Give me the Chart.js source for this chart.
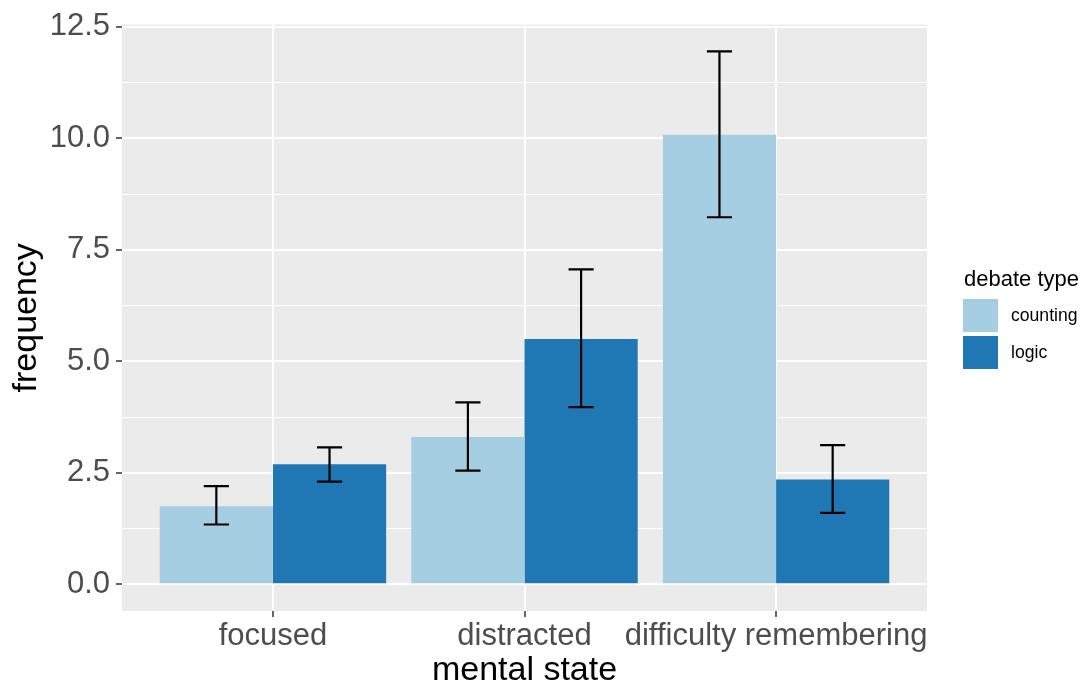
<!DOCTYPE html>
<html>
<head>
<meta charset="utf-8">
<script src="https://cdn.jsdelivr.net/npm/chart.js@4"></script>
<style>
  html, body { margin: 0; padding: 0; background: #ffffff; }
  #wrap { width: 1088px; height: 684px; }
</style>
</head>
<body>
<div id="wrap"><canvas id="c" width="1088" height="684"></canvas></div>
<script>
// ---- data ----
const categories = ["focused", "distracted", "difficulty remembering"];
const seriesNames = ["counting", "logic"];
const counting = [1.75, 3.30, 10.08];
const countingLow = [1.34, 2.55, 8.23];
const countingHigh = [2.20, 4.08, 11.95];
const logic = [2.69, 5.50, 2.35];
const logicLow = [2.30, 3.97, 1.60];
const logicHigh = [3.07, 7.06, 3.12];
const yMajorTicks = [0, 2.5, 5, 7.5, 10, 12.5];
const yMajorLabels = ["0.0", "2.5", "5.0", "7.5", "10.0", "12.5"];
const yMinorTicks = [1.25, 3.75, 6.25, 8.75, 11.25];
const legendTitle = "debate type";
const xTitle = "mental state";
const yTitle = "frequency";

// ---- styles ----
const colors = ["#A6CEE3", "#1F78B4"];
const FONT = "'Liberation Sans', Arial, Helvetica, sans-serif";

const catPos = categories.map((_, i) => i + 1);
const lows = [countingLow, logicLow];
const highs = [countingHigh, logicHigh];

const panelBg = {
  id: 'panelBg',
  beforeDraw(chart) {
    const {ctx, chartArea: a} = chart;
    ctx.save();
    ctx.fillStyle = '#EBEBEB';
    ctx.fillRect(a.left, a.top, a.right - a.left, a.bottom - a.top);
    ctx.restore();
  }
};

const errorBars = {
  id: 'errorBars',
  afterDatasetsDraw(chart) {
    const {ctx} = chart;
    const xs = chart.scales.x, ys = chart.scales.y;
    const half = Math.abs(xs.getPixelForValue(0.05) - xs.getPixelForValue(0));
    ctx.save();
    ctx.strokeStyle = '#000000';
    ctx.lineWidth = 2.2;
    ctx.lineCap = 'butt';
    chart.data.datasets.forEach((ds, i) => {
      const meta = chart.getDatasetMeta(i);
      meta.data.forEach((el, j) => {
        const x = el.x;
        const yH = ys.getPixelForValue(highs[i][j]);
        const yL = ys.getPixelForValue(lows[i][j]);
        ctx.beginPath();
        ctx.moveTo(x, yH); ctx.lineTo(x, yL);
        ctx.moveTo(x - half, yH); ctx.lineTo(x + half, yH);
        ctx.moveTo(x - half, yL); ctx.lineTo(x + half, yL);
        ctx.stroke();
      });
    });
    ctx.restore();
  }
};

const ggLegend = {
  id: 'ggLegend',
  afterDraw(chart) {
    const {ctx} = chart;
    ctx.save();
    ctx.fillStyle = '#000000';
    ctx.textAlign = 'left';
    ctx.textBaseline = 'alphabetic';
    ctx.font = `22px ${FONT}`;
    ctx.fillText(legendTitle, 964, 286);
    const boxX = 963, boxW = 35, boxH = 34, y0 = 299, gap = 37;
    chart.data.datasets.forEach((ds, i) => {
      const y = y0 + i * gap;
      ctx.fillStyle = ds.backgroundColor;
      ctx.fillRect(boxX, y, boxW, boxH - 1);
      ctx.fillStyle = '#000000';
      ctx.font = `17.6px ${FONT}`;
      ctx.textBaseline = 'middle';
      ctx.fillText(ds.label, 1011, y + boxH / 2);
    });
    ctx.restore();
  }
};

const datasets = [counting, logic].map((vals, i) => ({
  label: seriesNames[i],
  data: vals.map((v, j) => ({x: catPos[j], y: v})),
  backgroundColor: colors[i],
  borderWidth: 0,
  categoryPercentage: 0.9,
  barPercentage: 1.0,
  grouped: true
}));

new Chart(document.getElementById('c'), {
  type: 'bar',
  data: { datasets },
  plugins: [panelBg, errorBars, ggLegend],
  options: {
    responsive: false,
    animation: false,
    devicePixelRatio: 1,
    layout: { padding: { left: 0, right: 161, top: 24, bottom: 0 } },
    plugins: { legend: { display: false }, tooltip: { enabled: false } },
    scales: {
      x: {
        type: 'linear',
        min: 0.4,
        max: 3.6,
        offset: false,
        border: { display: false },
        grid: {
          offset: false,
          color: '#FFFFFF',
          lineWidth: 2,
          tickColor: '#333333',
          tickLength: 6,
          tickWidth: 1.5,
          drawTicks: true
        },
        ticks: {
          autoSkip: false,
          maxRotation: 0,
          minRotation: 0,
          padding: 1,
          color: '#4D4D4D',
          font: { family: FONT, size: 31 },
          callback: (v) => {
            const k = catPos.indexOf(v);
            return k >= 0 ? categories[k] : '';
          }
        },
        afterBuildTicks: (s) => { s.ticks = catPos.map(v => ({value: v})); },
        afterFit: (s) => { s.height = 73; },
        title: {
          display: true,
          text: xTitle,
          color: '#000000',
          font: { family: FONT, size: 34, lineHeight: 0.8 },
          padding: { top: 0, bottom: 0 }
        }
      },
      y: {
        type: 'linear',
        min: -0.6,
        max: 12.55,
        border: { display: false },
        grid: {
          color: '#FFFFFF',
          lineWidth: (c) => (c.tick && yMajorTicks.includes(c.tick.value)) ? 2 : 1,
          tickColor: (c) => (c.tick && yMajorTicks.includes(c.tick.value)) ? '#333333' : 'rgba(0,0,0,0)',
          tickLength: 6,
          tickWidth: 1.5
        },
        ticks: {
          autoSkip: false,
          padding: 6,
          color: '#4D4D4D',
          font: { family: FONT, size: 31 },
          callback: (v) => {
            const k = yMajorTicks.indexOf(v);
            return k >= 0 ? yMajorLabels[k] : '';
          }
        },
        afterBuildTicks: (s) => {
          s.ticks = yMajorTicks.concat(yMinorTicks).sort((a, b) => a - b).map(v => ({value: v}));
        },
        afterFit: (s) => { s.width = 122; },
        title: {
          display: true,
          text: yTitle,
          color: '#000000',
          font: { family: FONT, size: 34, lineHeight: 0.8 },
          padding: { top: 13, bottom: 0 }
        }
      }
    }
  }
});
</script>
</body>
</html>
